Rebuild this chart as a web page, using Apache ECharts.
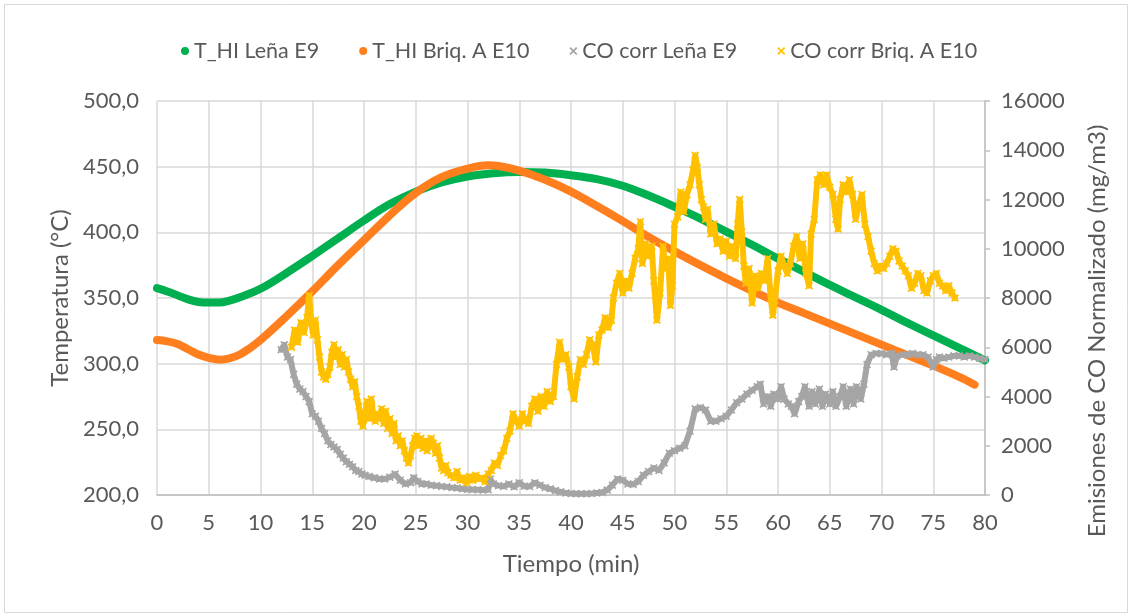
<!DOCTYPE html>
<html><head><meta charset="utf-8">
<script src="https://cdn.jsdelivr.net/npm/echarts@6/dist/echarts.min.js"></script>
<style>html,body{margin:0;padding:0;background:#fff}#c{width:1128px;height:613px}</style>
</head><body><div id="c"></div>
<script>
// Temperature series (°C) vs time (min)
const tLena = [0,1,2,3,4,5,6,7,8,10,12.5,15,17.5,20,22.5,25,27.5,30,32.5,35,37.5,40,42.5,45,47.5,50,52.5,55,57.5,60,62.5,65,67.5,70,72.5,75,77.5,80];
const tempLena = [357.5,355,352,349,347,346.5,346.5,348,350.5,357,369,382,395.5,409,421.5,431,438,442.5,445,446,445.5,443.5,440.5,435.5,428,419.5,410.5,400.5,390.5,380,370,360,350.5,341,331,321.5,312,302.5];
const tBriq = [0,1,2,3,4,5,6,7,8,9,10,12.5,15,17.5,20,22.5,25,27.5,30,32,33,35,37.5,40,42.5,45,47.5,50,52.5,55,57.5,60,62.5,65,67.5,70,72.5,75,77.5,79];
const tempBriq = [318,317,315,311,307,304.5,303,304,307,312,318,336,355,375,394,413,430,442,448.5,451,450.5,447,440,431,420,408.5,396.5,385.5,375,365,355.5,346.5,338.5,330.5,322.5,314.5,306.5,298.5,290,284];

// CO corr Leña E9 (mg/m3)
const tCOLena = [12.0,12.3,12.6,12.9,13.2,13.5,13.8,14.1,14.4,14.7,15.0,15.3,15.6,15.9,16.2,16.5,16.8,17.1,17.4,17.7,18.0,18.3,18.6,18.9,19.2,19.5,19.8,20.1,20.5,21,21.5,22,22.5,23,23.5,24,24.5,24.8,25.2,25.6,26,26.5,27,27.5,28,28.5,29,29.5,30,30.5,31,31.5,32,32.2,32.5,33,33.5,34,34.5,35,35.5,36,36.5,37,37.5,38,38.5,39,39.5,40,40.5,41,41.5,42,42.5,43,43.5,44,44.5,45,45.5,46,46.5,47,47.5,48,48.5,49,49.5,50,50.5,51,51.5,52,52.5,53,53.5,54,54.5,55,55.5,56,56.5,57,57.5,58,58.3,58.6,59,59.3,59.6,60,60.3,60.6,61,61.3,61.6,62,62.3,62.6,63,63.3,63.6,64,64.3,64.6,65,65.3,65.6,66,66.3,66.6,67,67.3,67.6,68,68.3,68.6,69,69.5,70,70.5,71,71.2,71.5,72,72.5,73,73.5,74,74.5,75,75.3,75.6,76,76.5,77,77.5,78,78.5,79,79.5,80];
const coLena = [5900,6100,5600,5500,4900,4500,4300,4200,4000,3800,3300,3200,3000,2700,2500,2200,2050,1950,1850,1650,1500,1350,1250,1150,1000,950,850,800,750,700,650,650,720,850,600,450,500,700,550,450,450,400,380,350,330,300,280,250,230,220,210,200,210,650,450,380,350,450,330,500,360,350,500,400,300,250,180,130,80,60,50,50,50,60,80,100,200,400,650,600,450,430,550,800,950,1100,1000,1300,1700,1800,1900,2000,2600,3500,3550,3450,3000,3000,3100,3200,3450,3750,3900,4100,4250,4400,4500,3700,4000,3600,4100,3900,4400,3900,3700,3600,3300,3800,4000,4400,3600,4200,3700,4300,3600,4100,3700,4200,3600,4000,4400,3600,4300,3700,4400,3900,4500,5300,5700,5750,5750,5700,5750,5200,5650,5700,5700,5750,5700,5700,5600,5200,5500,5600,5550,5600,5650,5650,5600,5650,5600,5550,5500];

// CO corr Briq. A E10 (mg/m3)
const tCOBriq = [13.0,13.3,13.6,13.9,14.2,14.5,14.7,14.9,15.1,15.3,15.5,15.7,15.9,16.1,16.3,16.5,16.7,16.9,17.1,17.3,17.5,17.7,17.9,18.1,18.3,18.5,18.7,18.9,19.1,19.3,19.5,19.7,19.9,20.1,20.3,20.5,20.7,20.9,21.1,21.3,21.5,21.7,21.9,22.1,22.3,22.5,22.7,22.9,23.1,23.3,23.5,23.7,23.9,24.1,24.3,24.5,24.7,24.9,25.1,25.3,25.5,25.7,25.9,26.1,26.3,26.5,26.7,26.9,27.1,27.3,27.5,27.7,27.9,28.1,28.4,28.7,29,29.3,29.6,29.9,30.2,30.5,30.8,31.1,31.4,31.7,32.0,32.3,32.6,32.9,33.2,33.5,33.8,34.1,34.4,34.7,35.0,35.3,35.6,35.9,36.2,36.5,36.8,37.1,37.4,37.7,38.0,38.3,38.6,38.9,39.2,39.5,39.8,40.0,40.3,40.6,40.9,41.2,41.5,41.8,42.1,42.4,42.7,43.0,43.3,43.6,43.9,44.1,44.4,44.7,45.0,45.3,45.6,45.9,46.2,46.5,46.7,46.9,47.2,47.5,47.8,48.0,48.3,48.6,48.9,49.1,49.4,49.6,49.8,50.0,50.3,50.6,50.9,51.2,51.5,51.8,52.0,52.2,52.4,52.6,52.8,53.0,53.2,53.5,53.8,54.1,54.4,54.7,55.0,55.3,55.6,55.9,56.1,56.3,56.5,56.7,56.9,57.2,57.5,57.8,58.1,58.4,58.7,59.0,59.3,59.5,59.7,60.0,60.3,60.6,60.9,61.2,61.5,61.8,62.1,62.4,62.7,63.0,63.2,63.5,63.8,64.1,64.4,64.7,65.0,65.3,65.6,65.8,66.0,66.3,66.6,66.9,67.2,67.5,67.8,68.1,68.4,68.7,69.0,69.3,69.6,69.9,70.2,70.5,70.8,71.1,71.4,71.7,72.0,72.3,72.6,72.9,73.2,73.5,73.8,74.1,74.4,74.7,75.0,75.3,75.6,75.9,76.2,76.5,76.8,77.1];
const coBriq = [6000,6700,6200,7000,6600,7200,8100,7000,6500,7100,6300,5600,5000,4800,4700,4900,5200,5800,6100,5600,5900,5300,5700,5200,5500,5000,4700,4400,4600,4000,3600,3000,2800,3300,3800,3100,3900,3200,3000,3300,3100,3500,2900,3400,2700,3100,2500,2900,2200,2400,2000,2200,1800,1500,1300,1600,2000,2300,2400,2000,2300,1900,2200,1800,2000,2300,2100,1700,2000,1500,1100,1000,1200,900,800,700,950,600,700,500,750,600,800,650,700,550,850,1000,1300,1200,1600,1800,2300,2600,3300,3000,2800,3300,3000,2900,3600,3900,3400,4000,3600,4200,3800,4000,5300,6200,5500,5700,5200,4400,3900,4800,5500,5300,5700,6300,6100,5400,6500,6700,7200,6800,7100,8000,8600,9000,8200,8700,8400,9000,9600,10000,11100,9400,10200,9700,10100,8700,7100,8200,10100,9200,9600,7700,8500,11000,11300,12300,11500,12200,12600,13200,13800,13300,12600,12000,11700,11200,11600,10600,11000,10200,10400,9900,10300,9700,10100,9600,11000,12000,10700,9300,8600,9200,7800,8900,8400,9000,8700,9600,8000,7300,7900,9100,9700,9300,9000,9400,10100,10500,9600,10200,9000,8500,10600,11200,12800,13000,12600,13000,12500,12200,11200,10800,12000,12600,12300,12800,12200,11200,11800,12200,11000,10500,9900,9400,9100,9300,9200,9400,9700,10000,9900,9500,9300,9100,8900,8400,8600,9000,8900,8300,8200,8700,8900,9000,8600,8500,8300,8500,8200,8000];

const names = ['T_HI Leña E9','T_HI Briq. A E10','CO corr Leña E9','CO corr Briq. A E10'];
const colors = ['#00b050','#ff7f1e','#a5a5a5','#ffc000'];
const rightTitle = 'Emisiones de CO Normalizado (mg/m3)';

const zip = (a,b) => a.map((v,i)=>[v,b[i]]);
const xIcon = 'path://M0,1.5L1.5,0L5,3.5L8.5,0L10,1.5L6.5,5L10,8.5L8.5,10L5,6.5L1.5,10L0,8.5L3.5,5Z';
const FONT = 'Lato, "Open Sans", sans-serif';
const TXT = '#595959';

const chart = echarts.init(document.getElementById('c'), null, {renderer:'canvas'});
chart.setOption({
  animation:false,
  backgroundColor:'#fff',
  textStyle:{fontFamily:FONT},
  graphic:[
    {type:'rect',left:2,top:2,shape:{width:1123,height:608},style:{fill:'none',stroke:'#d9d9d9',lineWidth:1},silent:true},
    {type:'text',x:1097,y:331,rotation:Math.PI/2,silent:true,
     style:{text:rightTitle,fill:TXT,font:'24px '+FONT,align:'center',verticalAlign:'middle'}}
  ],
  legend:{
    top:35, left:176, itemGap:40, itemWidth:8, itemHeight:8,
    textStyle:{fontSize:21.5,color:TXT,fontFamily:FONT},
    data:[{name:names[0],icon:'circle'},{name:names[1],icon:'circle'},{name:names[2],icon:xIcon},{name:names[3],icon:xIcon}]
  },
  grid:{left:157,right:143,top:101,bottom:118,containLabel:false},
  xAxis:{
    type:'value', min:0, max:80, interval:5,
    name:'Tiempo (min)', nameLocation:'middle', nameGap:57,
    nameTextStyle:{fontSize:24,color:TXT,fontFamily:FONT},
    axisLine:{show:true,lineStyle:{color:'#bfbfbf',width:1.5}},
    axisTick:{show:false},
    axisLabel:{fontSize:22,color:TXT,margin:17,fontFamily:FONT},
    splitLine:{show:true,lineStyle:{color:'#d9d9d9',width:1.5}}
  },
  yAxis:[{
    type:'value', min:200, max:500, interval:50,
    name:'Temperatura (°C)', nameLocation:'middle', nameGap:83, nameRotate:90,
    nameTextStyle:{fontSize:24,color:TXT,fontFamily:FONT},
    axisLine:{show:false}, axisTick:{show:false},
    axisLabel:{fontSize:22,color:TXT,margin:18,fontFamily:FONT,formatter:v=>v.toFixed(1).replace('.',',')},
    splitLine:{show:true,lineStyle:{color:'#d9d9d9',width:1.5}}
  },{
    type:'value', min:0, max:16000, interval:2000, position:'right',
    axisLine:{show:true,lineStyle:{color:'#bfbfbf',width:1.5}},
    axisTick:{show:true,length:5,lineStyle:{color:'#bfbfbf',width:1.5}},
    axisLabel:{fontSize:22,color:TXT,margin:16,fontFamily:FONT,formatter:v=>String(v)},
    splitLine:{show:false}
  }],
  series:[
    {name:names[0],type:'line',yAxisIndex:0,data:zip(tLena,tempLena),smooth:0.4,showSymbol:false,
     lineStyle:{color:colors[0],width:8,cap:'round'},itemStyle:{color:colors[0]}},
    {name:names[1],type:'line',yAxisIndex:0,data:zip(tBriq,tempBriq),smooth:0.4,showSymbol:false,
     lineStyle:{color:colors[1],width:8,cap:'round'},itemStyle:{color:colors[1]}},
    {name:names[2],type:'line',yAxisIndex:1,data:zip(tCOLena,coLena),showSymbol:true,showAllSymbol:true,
     symbol:xIcon,symbolSize:8,
     lineStyle:{color:colors[2],width:6,join:'round',cap:'round'},itemStyle:{color:colors[2]}},
    {name:names[3],type:'line',yAxisIndex:1,data:zip(tCOBriq,coBriq),showSymbol:true,showAllSymbol:true,
     symbol:xIcon,symbolSize:8,
     lineStyle:{color:colors[3],width:6,join:'round',cap:'round'},itemStyle:{color:colors[3]}}
  ]
});
</script></body></html>
